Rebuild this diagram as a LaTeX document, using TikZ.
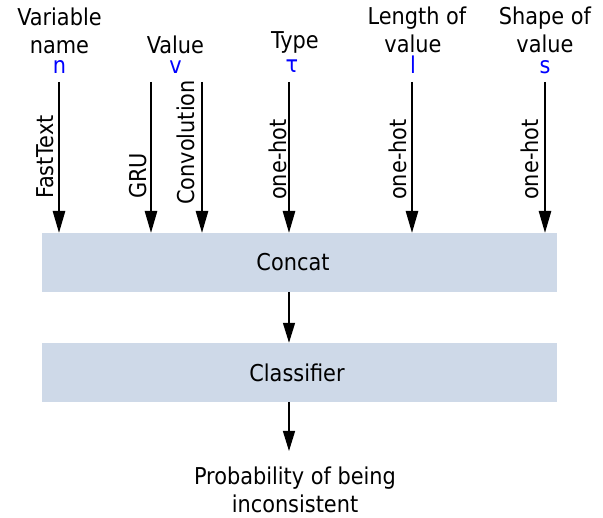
\documentclass[tikz,border=0pt]{standalone}
\usepackage{fontspec}
\setmainfont{DejaVu Sans Condensed}
\usetikzlibrary{arrows.meta}
\definecolor{boxfill}{RGB}{206,217,232}
\definecolor{varblue}{RGB}{0,0,255}
\begin{document}
\begin{tikzpicture}[x=1pt,y=-1pt,
  txt/.style={font=\fontsize{23.2}{28}\selectfont, inner sep=0pt, align=center},
  vtxt/.style={font=\fontsize{23.2}{28}\selectfont, inner sep=0pt, rotate=90, anchor=base west},
  var/.style={font=\fontsize{23.2}{28}\selectfont\color{varblue}, inner sep=0pt, anchor=base},
  stagebox/.style={draw=none, fill=boxfill, minimum width=515pt, minimum height=59pt, inner sep=0pt,
    font=\fontsize{23.2}{28}\selectfont},
  bigarr/.style={line width=1.4pt, -{Triangle[width=12.5pt,length=22pt]}},
  smallarr/.style={line width=1.4pt, -{Triangle[width=12pt,length=20pt]}}]
\useasboundingbox (0,0) rectangle (603,518);

% boxes
\node[stagebox] (concat) at (299.5,262.5) {};
\node[txt] (concatlbl) at (293,262.5) {Concat};
\node[stagebox] (classifier) at (299.5,372.5) {};
\node[txt] (classlbl) at (297,372.5) {Classifier};

% top labels
\node[txt, anchor=base] (l1a) at (59.5,26) {Variable};
\node[txt, anchor=base] (l1b) at (59.5,54) {name};
\node[var] (vn) at (59.5,74) {n};
\node[txt, anchor=base] (l2) at (175.5,54) {Value};
\node[var] (vv) at (175.5,74) {v};
\node[txt, anchor=base] (l3) at (295,49) {Type};
\node[var] (vt) at (292,73) {τ};
\node[txt, anchor=base] (l4a) at (417,25) {Length of};
\node[txt, anchor=base] (l4b) at (413,53) {value};
\node[var] (vl) at (413,74) {l};
\node[txt, anchor=base] (l5a) at (545,25) {Shape of};
\node[txt, anchor=base] (l5b) at (545,53) {value};
\node[var] (vs) at (545,74) {s};

% arrow start coordinates
\coordinate (sn) at (59,82);
\coordinate (sgru) at (151,82);
\coordinate (sconv) at (202,82);
\coordinate (st) at (289,82);
\coordinate (sl) at (412,82);
\coordinate (ss) at (545,82);

\draw[bigarr] (sn) -- (sn |- concat.north);
\draw[bigarr] (sgru) -- (sgru |- concat.north);
\draw[bigarr] (sconv) -- (sconv |- concat.north);
\draw[bigarr] (st) -- (st |- concat.north);
\draw[bigarr] (sl) -- (sl |- concat.north);
\draw[bigarr] (ss) -- (ss |- concat.north);

% rotated labels
\node[vtxt] (fasttext) at (53,199) {FastText};
\node[vtxt] (gru) at (146,199) {GRU};
\node[vtxt] (conv) at (194,205) {Convolution};
\node[vtxt] (oh1) at (286,200) {one-hot};
\node[vtxt] (oh2) at (406,200) {one-hot};
\node[vtxt] (oh3) at (538,200) {one-hot};

% output
\node[txt] (prob) at (295,490) {Probability of being\\inconsistent};
\coordinate (c1) at (289,292);
\coordinate (c2) at (289,402);
\draw[smallarr] (c1) -- (c1 |- classifier.north);
\draw[smallarr] (c2) -- (289,451);
\end{tikzpicture}
\end{document}
